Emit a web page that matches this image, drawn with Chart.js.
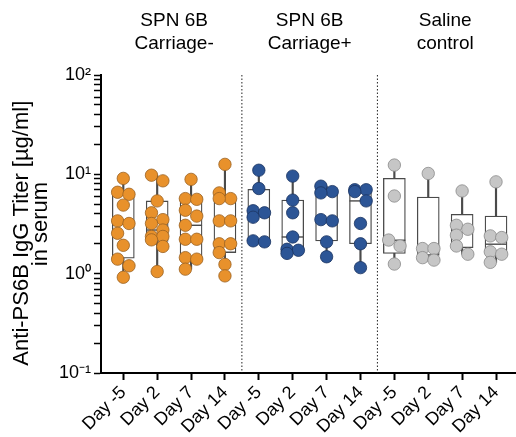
<!DOCTYPE html>
<html><head><meta charset="utf-8">
<script src="https://cdn.jsdelivr.net/npm/chart.js@4.4.0/dist/chart.umd.min.js"></script>
<style>html,body{margin:0;padding:0;background:#fff}canvas{display:block}</style>
</head><body>
<canvas id="c" width="516" height="437" style="width:516px;height:437px"></canvas>
<script>
// ---------- data ----------
const days = ['Day -5', 'Day 2', 'Day 7', 'Day 14'];
const groupLabels = [['SPN 6B', 'Carriage-'], ['SPN 6B', 'Carriage+'], ['Saline', 'control']];
const yTickPowers = [-1, 0, 1, 2];

// individual anti-PS6B IgG titers (µg/ml), one list per day
const carriageNeg = [
  [9.1, 6.6, 6.3, 4.9, 3.4, 3.2, 2.55, 1.93, 1.40, 1.20, 0.92],
  [9.8, 8.6, 5.4, 4.1, 3.5, 3.2, 2.75, 2.37, 2.37, 2.19, 1.88, 1.05],
  [8.9, 5.7, 5.6, 4.35, 3.8, 3.07, 2.22, 2.22, 1.45, 1.40, 1.11],
  [12.6, 6.5, 5.7, 5.7, 3.4, 3.4, 2.0, 2.0, 1.63, 1.24, 0.95]
];
const carriagePos = [
  [11.0, 7.2, 4.3, 4.1, 3.7, 2.14, 2.09],
  [9.6, 5.5, 4.1, 2.34, 1.76, 1.72, 1.6],
  [7.6, 6.7, 6.5, 3.5, 3.4, 2.09, 1.48],
  [7.0, 7.0, 6.7, 5.4, 3.2, 2.0, 1.15]
];
const salineCtrl = [
  [12.4, 6.05, 2.18, 1.9, 1.25],
  [10.2, 1.79, 1.79, 1.45, 1.37],
  [6.8, 3.07, 2.8, 2.44, 1.9, 1.57],
  [8.4, 2.4, 2.31, 1.66, 1.57, 1.3]
];
// box statistics per day: [min, q1, median, q3, max]
const carriageNegBox = [
  [0.92, 1.43, 3.2, 6.6, 9.1],
  [1.05, 2.11, 2.75, 5.4, 9.8],
  [1.11, 1.43, 3.07, 6.05, 8.9],
  [0.95, 1.63, 3.4, 5.7, 12.6]
];
const carriagePosBox = [
  [2.09, 2.18, 4.2, 7.06, 11.0],
  [1.6, 1.74, 2.34, 5.5, 9.6],
  [1.48, 2.14, 3.5, 7.06, 7.6],
  [1.15, 2.0, 5.4, 6.6, 7.0]
];
const salineCtrlBox = [
  [1.25, 1.6, 2.17, 9.1, 12.4],
  [1.37, 1.53, 1.76, 5.9, 10.2],
  [1.57, 1.83, 2.6, 3.96, 6.8],
  [1.3, 1.63, 1.98, 3.8, 8.4]
];

// ---------- chart ----------
Chart.defaults.font.family = '"Liberation Sans", Arial, sans-serif';
Chart.defaults.color = '#000';

const N = days.length;
const X_MIN = -0.658, X_MAX = 11.59, Y_MIN = 0.1, Y_MAX = 100;
const LINE = '#4a4a4a';

const groups = [
  { values: carriageNeg, box: carriageNegBox, fill: '#E8912B', edge: '#9A6222' },
  { values: carriagePos, box: carriagePosBox, fill: '#2C5596', edge: '#1B3461' },
  { values: salineCtrl, box: salineCtrlBox, fill: '#C6C6C6', edge: '#8A8A8A' }
];

const datasets = [];
const pointSets = [];
groups.forEach((g, gi) => {
  const xAt = di => gi * N + di;
  const pts = {
    type: 'scatter', data: [], order: 1,
    backgroundColor: g.fill, borderColor: g.edge,
    pointBackgroundColor: g.fill, pointBorderColor: g.edge,
    pointRadius: 6.2, pointBorderWidth: 0.8, pointHoverRadius: 6.2
  };
  pointSets.push(pts);
  datasets.push(pts);
  datasets.push({
    type: 'scatter', order: 2,
    data: g.box.map((b, di) => ({ x: xAt(di), y: b[2] })),
    pointStyle: 'line', pointRadius: 11, pointHoverRadius: 11,
    pointBorderColor: LINE, borderColor: LINE, pointBorderWidth: 1.4
  });
  datasets.push({
    type: 'bar', order: 3,
    data: g.box.map((b, di) => ({ x: xAt(di), y: [b[1], b[3]] })),
    backgroundColor: '#ffffff', borderColor: LINE, borderWidth: 1.3, borderSkipped: false,
    grouped: false, barPercentage: 1, categoryPercentage: 1, maxBarThickness: 22
  });
  datasets.push({
    type: 'bar', order: 4,
    data: g.box.map((b, di) => ({ x: xAt(di), y: [b[0], b[4]] })),
    backgroundColor: LINE, borderWidth: 0,
    grouped: false, barPercentage: 1, categoryPercentage: 1, maxBarThickness: 1.5
  });
});
for (let gi = 1; gi < groups.length; gi++) {
  datasets.push({
    type: 'line', order: 5,
    data: [{ x: gi * N - 0.5, y: Y_MAX }, { x: gi * N - 0.5, y: Y_MIN }],
    borderColor: '#222', borderWidth: 1, borderDash: [1.5, 2], pointRadius: 0
  });
}

const sup = { '-': '\u207B', '0': '\u2070', '1': '\u00B9', '2': '\u00B2' };
const isPow10 = v => { const e = Math.log10(v); return Math.abs(e - Math.round(e)) < 1e-9; };

const chart = new Chart(document.getElementById('c'), {
  type: 'bar',
  data: { datasets },
  options: {
    responsive: false, animation: false, devicePixelRatio: 1,
    layout: { padding: 0, autoPadding: false },
    plugins: { legend: { display: false }, tooltip: { enabled: false } },
    events: [],
    scales: {
      x: {
        type: 'linear', position: 'bottom', min: X_MIN, max: X_MAX, offset: false,
        afterFit: s => { s.height = 64; s.paddingLeft = 0; s.paddingRight = 0; },
        afterBuildTicks: s => { s.ticks = []; for (let i = 0; i < N * groups.length; i++) s.ticks.push({ value: i }); },
        ticks: {
          autoSkip: false, minRotation: 45, maxRotation: 45, padding: 2,
          font: { size: 18 }, color: '#000',
          callback: v => days[Math.round(v) % N]
        },
        grid: { offset: false, drawOnChartArea: false, drawTicks: true, tickLength: 7, tickWidth: 2, tickColor: '#000' },
        border: { color: '#000', width: 2 }
      },
      x2: {
        type: 'linear', position: 'top', min: X_MIN, max: X_MAX, offset: false,
        afterFit: s => { s.height = 75; s.paddingLeft = 0; s.paddingRight = 0; },
        afterBuildTicks: s => { s.ticks = groupLabels.map((_, gi) => ({ value: gi * N + (N - 1) / 2 })); },
        ticks: {
          autoSkip: false, minRotation: 0, maxRotation: 0, padding: 20,
          font: { size: 19, lineHeight: 1.2 }, color: '#000',
          callback: v => groupLabels[Math.round((v - (N - 1) / 2) / N)]
        },
        grid: { offset: false, display: false, drawTicks: false },
        border: { display: false }
      },
      y: {
        type: 'logarithmic', position: 'left', min: Y_MIN, max: Y_MAX,
        afterFit: s => { s.width = 101; },
        afterBuildTicks: s => {
          const t = [];
          yTickPowers.forEach((p, k) => {
            const b = Math.pow(10, p);
            t.push({ value: b, major: true });
            if (k < yTickPowers.length - 1) for (let m = 2; m <= 9; m++) t.push({ value: m * b });
          });
          s.ticks = t;
        },
        ticks: {
          autoSkip: false, padding: 3, font: { size: 18 }, color: '#000',
          callback: v => {
            if (!isPow10(v)) return '';
            const e = String(Math.round(Math.log10(v)));
            return '10' + e.split('').map(c => sup[c]).join('');
          }
        },
        grid: { drawOnChartArea: false, drawTicks: true, tickLength: 7, tickWidth: 1.5, tickColor: '#000' },
        border: { color: '#000', width: 2 },
        title: {
          display: true, text: ['Anti-PS6B IgG Titer [\u00B5g/ml]   ', 'in serum'],
          font: { size: 22, lineHeight: 0.85 }, color: '#000', padding: { top: 13, bottom: 0 }
        }
      }
    }
  }
});

// simple swarm layout: neighbouring points that would collide alternate left/right
function layoutPoints() {
  const xs = chart.scales.x, ys = chart.scales.y;
  const unit = xs.getPixelForValue(1) - xs.getPixelForValue(0);
  const shift = 5.7 / unit, minGap = 10.5;
  groups.forEach((g, gi) => {
    const data = [];
    g.values.forEach((vals, di) => {
      const x0 = gi * N + di;
      const sorted = vals.slice().sort((a, b) => b - a);
      const py = sorted.map(v => ys.getPixelForValue(v));
      const chains = [];
      let cur = [0];
      for (let i = 1; i < sorted.length; i++) {
        if (py[i] - py[i - 1] < minGap) cur.push(i); else { chains.push(cur); cur = [i]; }
      }
      chains.push(cur);
      chains.forEach(ch => {
        ch.forEach((idx, k) => {
          const off = ch.length === 1 ? 0 : (k % 2 === 0 ? -shift : shift);
          data.push({ x: x0 + off, y: sorted[idx] });
        });
      });
    });
    pointSets[gi].data = data;
  });
  chart.update('none');
}
layoutPoints();
</script>
</body></html>
